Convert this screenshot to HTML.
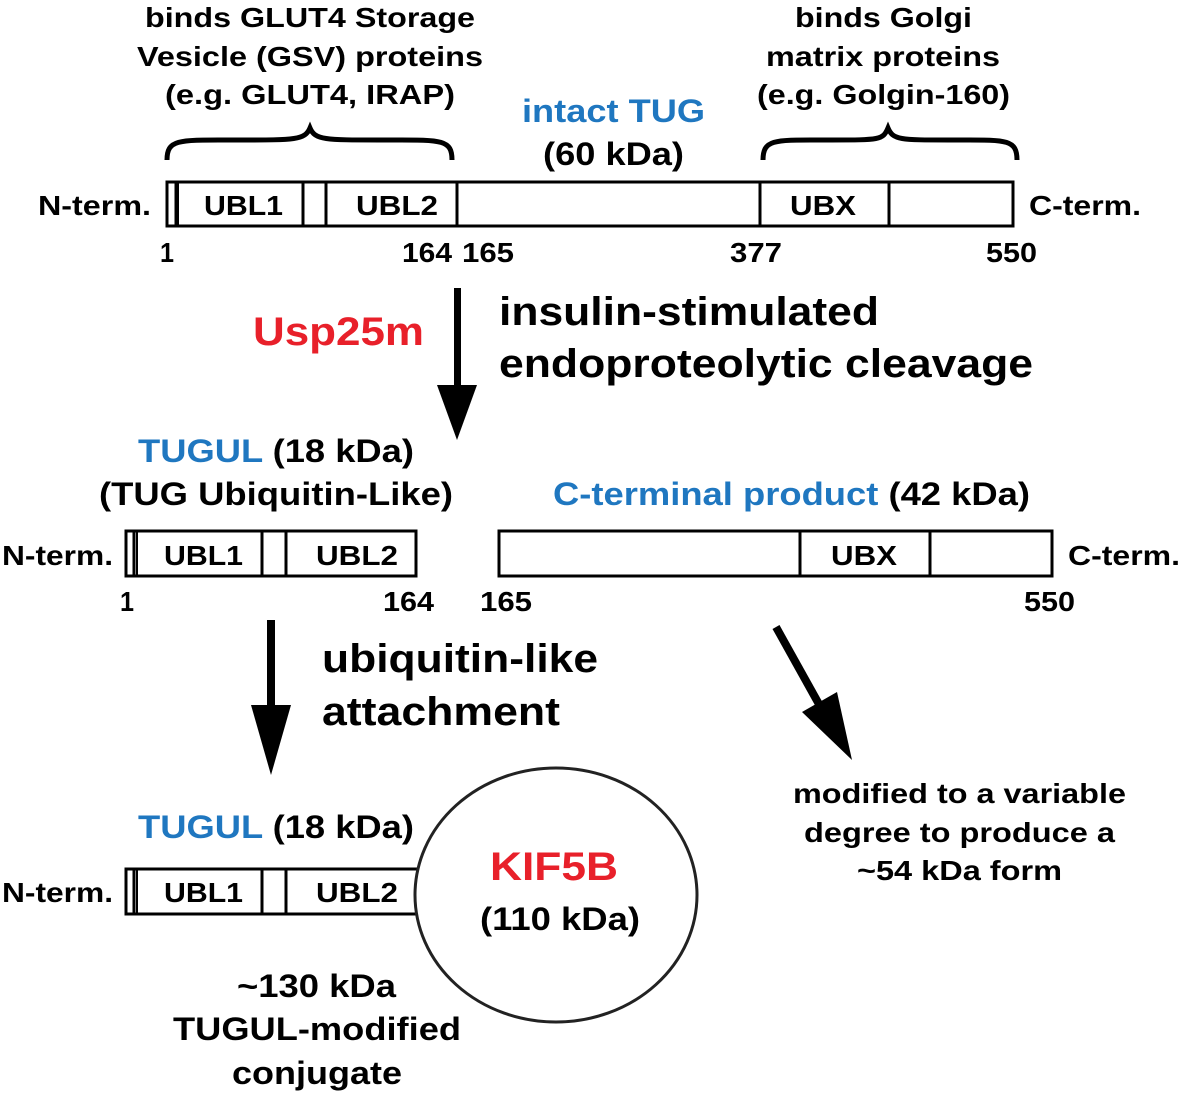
<!DOCTYPE html>
<html><head><meta charset="utf-8"><style>html,body{margin:0;padding:0;background:#fff}svg{display:block}text{font-family:"Liberation Sans",Arial,sans-serif;font-weight:bold;fill:#000}.b{fill:#1f77c0}.r{fill:#e8202a}</style></head><body>
<svg width="1181" height="1099" viewBox="0 0 1181 1099" xmlns="http://www.w3.org/2000/svg">
<g font-size="28">
<text x="145" y="27" textLength="330" lengthAdjust="spacingAndGlyphs">binds GLUT4 Storage</text>
<text x="137" y="66" textLength="346" lengthAdjust="spacingAndGlyphs">Vesicle (GSV) proteins</text>
<text x="165" y="104" textLength="290" lengthAdjust="spacingAndGlyphs">(e.g. GLUT4, IRAP)</text>
<text x="795" y="27" textLength="177" lengthAdjust="spacingAndGlyphs">binds Golgi</text>
<text x="766" y="66" textLength="234" lengthAdjust="spacingAndGlyphs">matrix proteins</text>
<text x="757" y="104" textLength="253" lengthAdjust="spacingAndGlyphs">(e.g. Golgin-160)</text>
</g>
<text x="522" y="122" font-size="32" class="b" textLength="183" lengthAdjust="spacingAndGlyphs">intact TUG</text>
<text x="543" y="165" font-size="32" textLength="141" lengthAdjust="spacingAndGlyphs">(60 kDa)</text>
<g fill="none" stroke="#000" stroke-width="5">
<path d="M167,160 C167,138 180,140 240,140 C295,140 305,140 310,128 C315,140 325,140 380,140 C440,140 452,138 452,160"/>
<path d="M763,160 C763,138 776,140 830,140 C880,140 883,140 888,128 C893,140 900,140 950,140 C1005,140 1017,138 1017,160"/>
</g>
<g fill="none" stroke="#000" stroke-width="3">
<rect x="167" y="182" width="846" height="44"/>
<line x1="176" y1="182" x2="176" y2="226"/>
<line x1="178" y1="182" x2="178" y2="226" stroke-width="2"/>
<line x1="303" y1="182" x2="303" y2="226"/>
<line x1="326" y1="182" x2="326" y2="226"/>
<line x1="457" y1="182" x2="457" y2="226"/>
<line x1="760" y1="182" x2="760" y2="226"/>
<line x1="889" y1="182" x2="889" y2="226"/>
</g>
<g font-size="28">
<text x="38" y="215" textLength="113" lengthAdjust="spacingAndGlyphs">N-term.</text>
<text x="1029" y="215" textLength="112" lengthAdjust="spacingAndGlyphs">C-term.</text>
<text x="204" y="215" textLength="79" lengthAdjust="spacingAndGlyphs">UBL1</text>
<text x="356" y="215" textLength="82" lengthAdjust="spacingAndGlyphs">UBL2</text>
<text x="790" y="215" textLength="66" lengthAdjust="spacingAndGlyphs">UBX</text>
<text x="160" y="262" textLength="14" lengthAdjust="spacingAndGlyphs">1</text>
<text x="402" y="262" textLength="50" lengthAdjust="spacingAndGlyphs">164</text>
<text x="462" y="262" textLength="52" lengthAdjust="spacingAndGlyphs">165</text>
<text x="730" y="262" textLength="52" lengthAdjust="spacingAndGlyphs">377</text>
<text x="986" y="262" textLength="51" lengthAdjust="spacingAndGlyphs">550</text>
</g>
<rect x="454" y="288" width="7" height="100" fill="#000"/>
<path d="M437,385 L477,385 L457,440 Z" fill="#000"/>
<text x="253" y="345" font-size="40" class="r" textLength="171" lengthAdjust="spacingAndGlyphs">Usp25m</text>
<text x="499" y="325" font-size="40" textLength="380" lengthAdjust="spacingAndGlyphs">insulin-stimulated</text>
<text x="499" y="377" font-size="40" textLength="534" lengthAdjust="spacingAndGlyphs">endoproteolytic cleavage</text>
<text x="138" y="462" font-size="32" textLength="276" lengthAdjust="spacingAndGlyphs"><tspan class="b">TUGUL</tspan> (18 kDa)</text>
<text x="99" y="505" font-size="32" textLength="354" lengthAdjust="spacingAndGlyphs">(TUG Ubiquitin-Like)</text>
<text x="553" y="505" font-size="32" textLength="477" lengthAdjust="spacingAndGlyphs"><tspan class="b">C-terminal product</tspan> (42 kDa)</text>
<g fill="none" stroke="#000" stroke-width="3">
<rect x="126" y="531" width="290" height="45"/>
<line x1="134" y1="531" x2="134" y2="576"/>
<line x1="137" y1="531" x2="137" y2="576" stroke-width="2"/>
<line x1="262" y1="531" x2="262" y2="576"/>
<line x1="286" y1="531" x2="286" y2="576"/>
<rect x="499" y="531" width="553" height="45"/>
<line x1="800" y1="531" x2="800" y2="576"/>
<line x1="930" y1="531" x2="930" y2="576"/>
</g>
<g font-size="28">
<text x="2" y="565" textLength="111" lengthAdjust="spacingAndGlyphs">N-term.</text>
<text x="1068" y="565" textLength="112" lengthAdjust="spacingAndGlyphs">C-term.</text>
<text x="164" y="565" textLength="79" lengthAdjust="spacingAndGlyphs">UBL1</text>
<text x="316" y="565" textLength="82" lengthAdjust="spacingAndGlyphs">UBL2</text>
<text x="831" y="565" textLength="66" lengthAdjust="spacingAndGlyphs">UBX</text>
<text x="120" y="611" textLength="14" lengthAdjust="spacingAndGlyphs">1</text>
<text x="383" y="611" textLength="51" lengthAdjust="spacingAndGlyphs">164</text>
<text x="480" y="611" textLength="52" lengthAdjust="spacingAndGlyphs">165</text>
<text x="1024" y="611" textLength="51" lengthAdjust="spacingAndGlyphs">550</text>
</g>
<rect x="267" y="620" width="8" height="90" fill="#000"/>
<path d="M251,705 L291,705 L271,775 Z" fill="#000"/>
<text x="322" y="672" font-size="40" textLength="276" lengthAdjust="spacingAndGlyphs">ubiquitin-like</text>
<text x="322" y="725" font-size="40" textLength="238" lengthAdjust="spacingAndGlyphs">attachment</text>
<line x1="776" y1="627" x2="825" y2="715" stroke="#000" stroke-width="8"/>
<path d="M802,712 L837,692 L852,760 Z" fill="#000"/>
<g font-size="28">
<text x="793" y="803" textLength="333" lengthAdjust="spacingAndGlyphs">modified to a variable</text>
<text x="804" y="842" textLength="311" lengthAdjust="spacingAndGlyphs">degree to produce a</text>
<text x="857" y="880" textLength="205" lengthAdjust="spacingAndGlyphs">~54 kDa form</text>
</g>
<text x="138" y="838" font-size="32" textLength="276" lengthAdjust="spacingAndGlyphs"><tspan class="b">TUGUL</tspan> (18 kDa)</text>
<g fill="none" stroke="#000" stroke-width="3">
<rect x="126" y="869" width="300" height="45"/>
<line x1="134" y1="869" x2="134" y2="914"/>
<line x1="137" y1="869" x2="137" y2="914" stroke-width="2"/>
<line x1="262" y1="869" x2="262" y2="914"/>
<line x1="286" y1="869" x2="286" y2="914"/>
</g>
<ellipse cx="556" cy="895" rx="141" ry="127" fill="#fff" stroke="#222" stroke-width="3"/>
<g font-size="28">
<text x="2" y="902" textLength="111" lengthAdjust="spacingAndGlyphs">N-term.</text>
<text x="164" y="902" textLength="79" lengthAdjust="spacingAndGlyphs">UBL1</text>
<text x="316" y="902" textLength="82" lengthAdjust="spacingAndGlyphs">UBL2</text>
</g>
<text x="490" y="880" font-size="40" class="r" textLength="128" lengthAdjust="spacingAndGlyphs">KIF5B</text>
<text x="480" y="930" font-size="32" textLength="160" lengthAdjust="spacingAndGlyphs">(110 kDa)</text>
<g font-size="32">
<text x="237" y="997" textLength="159" lengthAdjust="spacingAndGlyphs">~130 kDa</text>
<text x="173" y="1040" textLength="288" lengthAdjust="spacingAndGlyphs">TUGUL-modified</text>
<text x="232" y="1084" textLength="170" lengthAdjust="spacingAndGlyphs">conjugate</text>
</g>
</svg>
</body></html>
